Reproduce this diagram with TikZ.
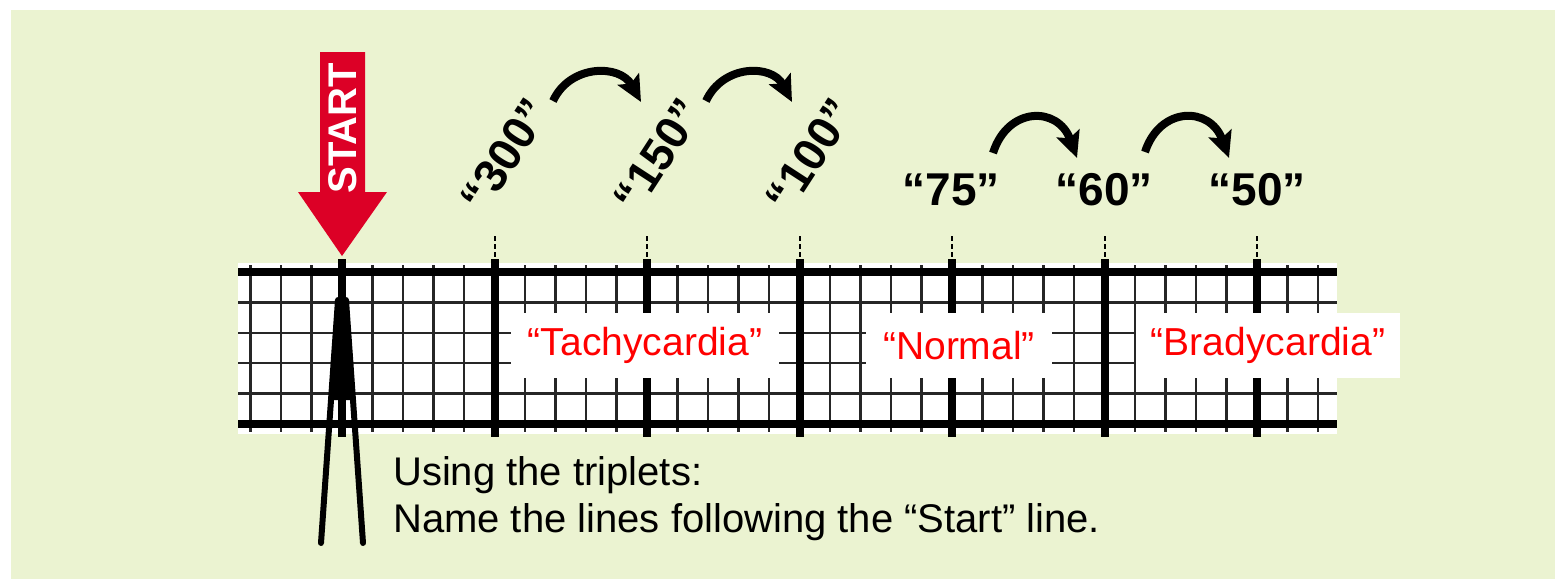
\documentclass[tikz,border=0pt]{standalone}
\usepackage{fontspec}
\setmainfont{Liberation Sans}
\usetikzlibrary{arrows.meta}
\definecolor{paper}{RGB}{235,243,209}
\definecolor{startred}{RGB}{220,0,38}

\begin{document}
\begin{tikzpicture}[x=1pt,y=-1pt,
		thingrid/.style={line width=2.5pt,black!85},
		thickgrid/.style={line width=8pt,black},
		rate/.style={font=\bfseries\fontsize{46}{46}\selectfont,inner sep=0pt},
		zone/.style={fill=white,text=red,font=\fontsize{39}{39}\selectfont,minimum height=65pt,inner sep=0pt},
		jump/.style={line width=8pt,-{Stealth[length=26pt,width=24pt,inset=5pt]}}]
				\useasboundingbox (0,0) rectangle (1555,579);
				\fill[paper] (11,10) rectangle (1555,579);
				% ECG strip
				\fill[white] (238,263) rectangle (1337,434);
				\foreach \k in {-3,...,32}
					\draw[thingrid] ({342+30.5*\k},265) -- ({342+30.5*\k},432);
				\foreach \r in {1,...,4}
					\draw[thingrid] (238,{272+30.4*\r}) -- (1337,{272+30.4*\r});
				\draw[thickgrid] (238,272) -- (1337,272);
				\draw[thickgrid] (238,424) -- (1337,424);
				\foreach \i in {0,...,6}
					\draw[thickgrid] ({342+152.5*\i},259) -- ({342+152.5*\i},437);
				\foreach \i in {1,...,6}
					\draw[line width=2pt,dash pattern=on 5pt off 3pt] ({342+152.5*\i},236) -- ({342+152.5*\i},259);
				% spike on the start line
				\fill (338,300) -- (346,300) -- (353,400) -- (331,400) -- cycle;
				\draw[line width=6pt,line cap=round] (338,300) -- (321,543);
				\draw[line width=6pt,line cap=round] (346,300) -- (363,543);
				% start arrow
				\fill[startred] (320,52) -- (365,52) -- (365,192) -- (387,192) -- (342,256) -- (298,192) -- (320,192) -- cycle;
				\node[rotate=90,text=white,font=\bfseries\fontsize{40}{40}\selectfont,inner sep=0pt] (start) at (343,128) {START};
				\begin{scope}[every node/.style={rate}]
					\node[rotate=57] (r300) at (505,155) {“300”};
					\node[rotate=57] (r150) at (658,155) {“150”};
					\node[rotate=57] (r100) at (810,155) {“100”};
					\node (r75) at (951,190) {“75”};
					\node (r60) at (1104,190) {“60”};
					\node (r50) at (1257,190) {“50”};
				\end{scope}
				\node[zone,minimum width=268pt] (tachy) at (645,345.5) {“Tachycardia”};
				\node[zone,minimum width=186pt] (normal) at (959,345.5) {“Normal”};
				\node[zone,minimum width=264pt] (brady) at (1268,345.5) {“Bradycardia”};
				\coordinate (a1s) at (553,101);
				\coordinate (a1e) at (641,102);
				\coordinate (a2s) at (706,101);
				\coordinate (a2e) at (792,102);
				\coordinate (a3s) at (993,153);
				\coordinate (a3e) at (1077,158);
				\coordinate (a4s) at (1145,152);
				\coordinate (a4e) at (1229,158);
				\draw[jump] (a1s) .. controls (570,64) and (620,64) .. (a1e);
				\draw[jump] (a2s) .. controls (723,64) and (772,64) .. (a2e);
				\draw[jump] (a3s) .. controls (1008,106) and (1058,106) .. (a3e);
				\draw[jump] (a4s) .. controls (1160,106) and (1210,106) .. (a4e);
				\node[anchor=base west,inner sep=0pt,font=\fontsize{40}{40}\selectfont] (note1) at (393,485) {Using the triplets:};
				\node[anchor=base west,inner sep=0pt,font=\fontsize{40}{40}\selectfont] (note2) at (393,532) {Name the lines following the “Start” line.};
			\end{tikzpicture}
\end{document}
